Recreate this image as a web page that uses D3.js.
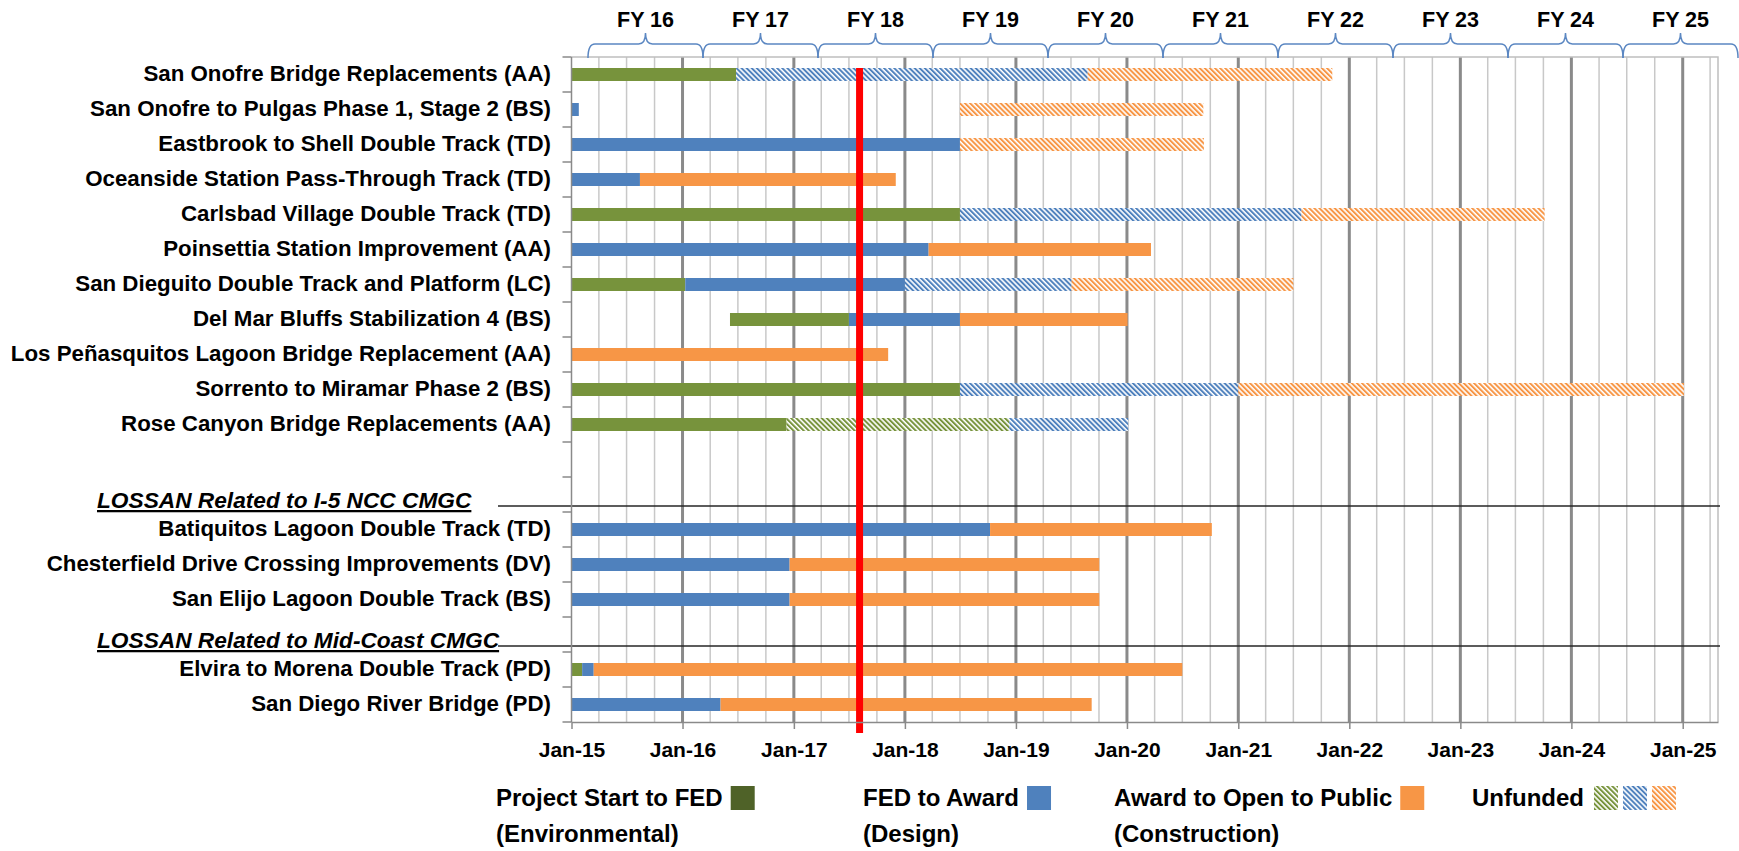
<!DOCTYPE html>
<html>
<head>
<meta charset="utf-8">
<script src="https://cdn.jsdelivr.net/npm/d3@7"></script>
<style>
  body { margin: 0; background: #fff; }
  svg { display: block; font-family: "Liberation Sans", Arial, sans-serif; }
</style>
</head>
<body>
<svg id="chart" width="1739" height="851"></svg>
<script>
// Rows of the schedule, top to bottom ("" is a spacer row)
const projects = [
  "San Onofre Bridge Replacements (AA)",
  "San Onofre to Pulgas Phase 1, Stage 2 (BS)",
  "Eastbrook to Shell Double Track (TD)",
  "Oceanside Station Pass-Through Track (TD)",
  "Carlsbad Village Double Track (TD)",
  "Poinsettia Station Improvement (AA)",
  "San Dieguito Double Track and Platform (LC)",
  "Del Mar Bluffs Stabilization 4 (BS)",
  "Los Peñasquitos Lagoon Bridge Replacement (AA)",
  "Sorrento to Miramar Phase 2 (BS)",
  "Rose Canyon Bridge Replacements (AA)",
  "",
  "LOSSAN Related to I-5 NCC CMGC",
  "Batiquitos Lagoon Double Track (TD)",
  "Chesterfield Drive Crossing Improvements (DV)",
  "San Elijo Lagoon Double Track (BS)",
  "LOSSAN Related to Mid-Coast CMGC",
  "Elvira to Morena Double Track (PD)",
  "San Diego River Bridge (PD)"
];
const sectionHeaders = ["LOSSAN Related to I-5 NCC CMGC", "LOSSAN Related to Mid-Coast CMGC"];

// Phase segments: [project, start, end, funded]
const environmental = [
  ["San Onofre Bridge Replacements (AA)", "2015-01-01", "2016-06-25", true],
  ["Carlsbad Village Double Track (TD)", "2015-01-01", "2018-07-01", true],
  ["San Dieguito Double Track and Platform (LC)", "2015-01-01", "2016-01-10", true],
  ["Del Mar Bluffs Stabilization 4 (BS)", "2016-06-05", "2017-07-01", true],
  ["Sorrento to Miramar Phase 2 (BS)", "2015-01-01", "2018-07-01", true],
  ["Rose Canyon Bridge Replacements (AA)", "2015-01-01", "2016-12-08", true],
  ["Rose Canyon Bridge Replacements (AA)", "2016-12-08", "2018-12-10", false],
  ["Elvira to Morena Double Track (PD)", "2015-01-01", "2015-02-05", true]
];
const design = [
  ["San Onofre Bridge Replacements (AA)", "2016-06-25", "2019-08-25", false],
  ["San Onofre to Pulgas Phase 1, Stage 2 (BS)", "2015-01-01", "2015-01-25", true],
  ["Eastbrook to Shell Double Track (TD)", "2015-01-01", "2018-07-01", true],
  ["Oceanside Station Pass-Through Track (TD)", "2015-01-01", "2015-08-14", true],
  ["Carlsbad Village Double Track (TD)", "2018-07-01", "2021-07-28", false],
  ["Poinsettia Station Improvement (AA)", "2015-01-01", "2018-03-20", true],
  ["San Dieguito Double Track and Platform (LC)", "2016-01-10", "2018-01-01", true],
  ["San Dieguito Double Track and Platform (LC)", "2018-01-01", "2019-07-03", false],
  ["Del Mar Bluffs Stabilization 4 (BS)", "2017-07-01", "2018-07-01", true],
  ["Sorrento to Miramar Phase 2 (BS)", "2018-07-01", "2021-01-01", false],
  ["Rose Canyon Bridge Replacements (AA)", "2018-12-10", "2020-01-05", false],
  ["Batiquitos Lagoon Double Track (TD)", "2015-01-01", "2018-10-08", true],
  ["Chesterfield Drive Crossing Improvements (DV)", "2015-01-01", "2016-12-18", true],
  ["San Elijo Lagoon Double Track (BS)", "2015-01-01", "2016-12-18", true],
  ["Elvira to Morena Double Track (PD)", "2015-02-05", "2015-03-15", true],
  ["San Diego River Bridge (PD)", "2015-01-01", "2016-05-05", true]
];
const construction = [
  ["San Onofre Bridge Replacements (AA)", "2019-08-25", "2021-11-06", false],
  ["San Onofre to Pulgas Phase 1, Stage 2 (BS)", "2018-07-01", "2020-09-08", false],
  ["Eastbrook to Shell Double Track (TD)", "2018-07-01", "2020-09-10", false],
  ["Oceanside Station Pass-Through Track (TD)", "2015-08-14", "2017-12-02", true],
  ["Carlsbad Village Double Track (TD)", "2021-07-28", "2023-10-05", false],
  ["Poinsettia Station Improvement (AA)", "2018-03-20", "2020-03-20", true],
  ["San Dieguito Double Track and Platform (LC)", "2019-07-03", "2021-07-01", false],
  ["Del Mar Bluffs Stabilization 4 (BS)", "2018-07-01", "2020-01-03", true],
  ["Los Peñasquitos Lagoon Bridge Replacement (AA)", "2015-01-01", "2017-11-07", true],
  ["Sorrento to Miramar Phase 2 (BS)", "2021-01-01", "2025-01-05", false],
  ["Batiquitos Lagoon Double Track (TD)", "2018-10-08", "2020-10-06", true],
  ["Chesterfield Drive Crossing Improvements (DV)", "2016-12-18", "2019-10-02", true],
  ["San Elijo Lagoon Double Track (BS)", "2016-12-18", "2019-10-02", true],
  ["Elvira to Morena Double Track (PD)", "2015-03-15", "2020-07-01", true],
  ["San Diego River Bridge (PD)", "2016-05-05", "2019-09-07", true]
];

const fiscalYears = ["FY 16", "FY 17", "FY 18", "FY 19", "FY 20", "FY 21", "FY 22", "FY 23", "FY 24", "FY 25"];
const timelineStart = "2015-01-01";
const timelineEnd = "2025-04-27";
const statusDate = "2017-08-05";
const legendLabels = [
  ["Project Start to FED", "(Environmental)"],
  ["FED to Award", "(Design)"],
  ["Award to Open to Public", "(Construction)"],
  ["Unfunded"]
];

// ---- styling ----
const colors = { env: "#77933C", design: "#4F81BD", constr: "#F79646" };
const legendColors = ["#4F6228", "#4F81BD", "#F79646"];
const parse = d3.timeParse("%Y-%m-%d");

const svg = d3.select("#chart");
const plot = { left: 571.5, right: 1718, top: 57, bottom: 722 };

const x = d3.scaleTime()
  .domain([parse(timelineStart), parse(timelineEnd)])
  .range([plot.left, plot.right]);
const y = d3.scaleBand()
  .domain(d3.range(projects.length))
  .range([plot.top, plot.bottom]);
const barH = 13;

// hatch patterns for unfunded phases
const defs = svg.append("defs");
function hatch(id, color) {
  const p = defs.append("pattern")
    .attr("id", id)
    .attr("patternUnits", "userSpaceOnUse")
    .attr("width", 3.6).attr("height", 3.6)
    .attr("patternTransform", "rotate(-45)");
  p.append("rect").attr("width", 3.6).attr("height", 3.6).attr("fill", "#fff");
  p.append("rect").attr("width", 2).attr("height", 3.6).attr("fill", color);
}
hatch("hatch-env", colors.env);
hatch("hatch-design", colors.design);
hatch("hatch-constr", colors.constr);

// gridlines: quarterly (light) and yearly (dark)
const [d0, d1] = x.domain();
const quarters = d3.timeMonth.every(3).range(d0, d1).filter(d => +d > +d0);
const years = d3.timeYear.range(d0, d3.timeDay.offset(d1, 1));
svg.append("g").selectAll("line").data(quarters.filter(d => d.getMonth() !== 0)).join("line")
  .attr("x1", d => x(d)).attr("x2", d => x(d))
  .attr("y1", plot.top).attr("y2", plot.bottom)
  .attr("stroke", "#c8c8c8").attr("stroke-width", 1.5);
svg.append("g").selectAll("line").data(years.filter(d => +d > +d0)).join("line")
  .attr("x1", d => x(d)).attr("x2", d => x(d))
  .attr("y1", plot.top).attr("y2", plot.bottom)
  .attr("stroke", "#8a8a8a").attr("stroke-width", 3);

// plot frame (top and right)
svg.append("path")
  .attr("d", `M${plot.left},${plot.top}H${plot.right}V${plot.bottom}`)
  .attr("fill", "none").attr("stroke", "#bfbfbf").attr("stroke-width", 1.5);

// phase bars
function drawPhase(segments, key) {
  svg.append("g").selectAll("rect").data(segments).join("rect")
    .attr("x", d => x(parse(d[1])))
    .attr("width", d => x(parse(d[2])) - x(parse(d[1])))
    .attr("y", d => y(projects.indexOf(d[0])) + (y.bandwidth() - barH) / 2)
    .attr("height", barH)
    .attr("fill", d => d[3] ? colors[key] : `url(#hatch-${key})`);
}
drawPhase(environmental, "env");
drawPhase(design, "design");
drawPhase(construction, "constr");

// section divider lines under group headers
svg.append("g").selectAll("line").data(sectionHeaders).join("line")
  .attr("x1", 498).attr("x2", 1720)
  .attr("y1", d => y(projects.indexOf(d)) + y.bandwidth() / 2 + 11.5)
  .attr("y2", d => y(projects.indexOf(d)) + y.bandwidth() / 2 + 11.5)
  .attr("stroke", "#262626").attr("stroke-width", 1.6);

// status date marker
svg.append("line")
  .attr("x1", x(parse(statusDate))).attr("x2", x(parse(statusDate)))
  .attr("y1", plot.top + 11).attr("y2", plot.bottom + 11)
  .attr("stroke", "#ff0000").attr("stroke-width", 7);

// left axis with ticks on row boundaries
const yEdges = d3.range(projects.length + 1).map(i => i < projects.length ? y(i) : plot.bottom);
svg.append("line")
  .attr("x1", plot.left).attr("x2", plot.left)
  .attr("y1", plot.top).attr("y2", plot.bottom)
  .attr("stroke", "#8a8a8a").attr("stroke-width", 1.5);
svg.append("g").selectAll("line").data(yEdges).join("line")
  .attr("x1", plot.left - 9).attr("x2", plot.left)
  .attr("y1", d => d).attr("y2", d => d)
  .attr("stroke", "#8a8a8a").attr("stroke-width", 1.5);

// row labels
const labels = svg.append("g").attr("font-weight", "bold").attr("fill", "#000");
projects.forEach((name, i) => {
  if (!name) return;
  const cy = y(i) + y.bandwidth() / 2;
  if (sectionHeaders.includes(name)) {
    labels.append("text").attr("x", 97).attr("y", cy + 13.5)
      .attr("font-size", 22.7)
      .attr("font-style", "italic").attr("text-decoration", "underline")
      .text(name);
  } else {
    labels.append("text").attr("x", 551).attr("y", cy + 6.5)
      .attr("font-size", 22.3)
      .attr("text-anchor", "end").text(name);
  }
});

// bottom time axis
const xAxis = d3.axisBottom(x)
  .tickValues(years)
  .tickFormat(d3.timeFormat("%b-%y"))
  .tickSizeInner(7).tickSizeOuter(0).tickPadding(13);
const gx = svg.append("g").attr("transform", `translate(0,${plot.bottom})`).call(xAxis);
gx.select(".domain").attr("stroke", "#8a8a8a").attr("stroke-width", 1.5);
gx.selectAll(".tick line").attr("stroke", "#8a8a8a").attr("stroke-width", 1.5);
gx.selectAll(".tick text")
  .attr("font-family", "'Liberation Sans', Arial, sans-serif")
  .attr("font-size", 21).attr("font-weight", "bold").attr("fill", "#000");

// fiscal year braces along the top
const braceX0 = 588, braceW = 115;
const braceTop = 33, braceBar = 44, braceTip = 58, r = 7;
const fy = svg.append("g");
fiscalYears.forEach((label, i) => {
  const a = braceX0 + i * braceW, b = a + braceW, m = (a + b) / 2;
  fy.append("path")
    .attr("d", `M${a},${braceTip} Q${a},${braceBar} ${a + r},${braceBar} L${m - r},${braceBar} Q${m},${braceBar} ${m},${braceTop} Q${m},${braceBar} ${m + r},${braceBar} L${b - r},${braceBar} Q${b},${braceBar} ${b},${braceTip}`)
    .attr("fill", "none").attr("stroke", "#5b87c2").attr("stroke-width", 1.5);
  fy.append("text").attr("x", m).attr("y", 27)
    .attr("text-anchor", "middle").attr("font-size", 21.5).attr("font-weight", "bold")
    .text(label);
});

// legend
const legendX = [496, 863, 1114, 1472];
const legendBase = [806, 842];
const sw = 24;
const lg = svg.append("g").attr("font-size", 24).attr("font-weight", "bold");
legendLabels.forEach((lines, i) => {
  let firstEnd = 0;
  lines.forEach((t, j) => {
    const el = lg.append("text").attr("x", legendX[i]).attr("y", legendBase[j]).text(t);
    if (j === 0) firstEnd = legendX[i] + el.node().getComputedTextLength();
  });
  if (i < 3) {
    lg.append("rect").attr("x", firstEnd + 8).attr("y", legendBase[0] - 20)
      .attr("width", sw).attr("height", sw).attr("fill", legendColors[i]);
  } else {
    ["env", "design", "constr"].forEach((k, n) => {
      lg.append("rect").attr("x", firstEnd + 10 + n * 29).attr("y", legendBase[0] - 20)
        .attr("width", sw).attr("height", sw).attr("fill", `url(#hatch-${k})`);
    });
  }
});
</script>
</body>
</html>
